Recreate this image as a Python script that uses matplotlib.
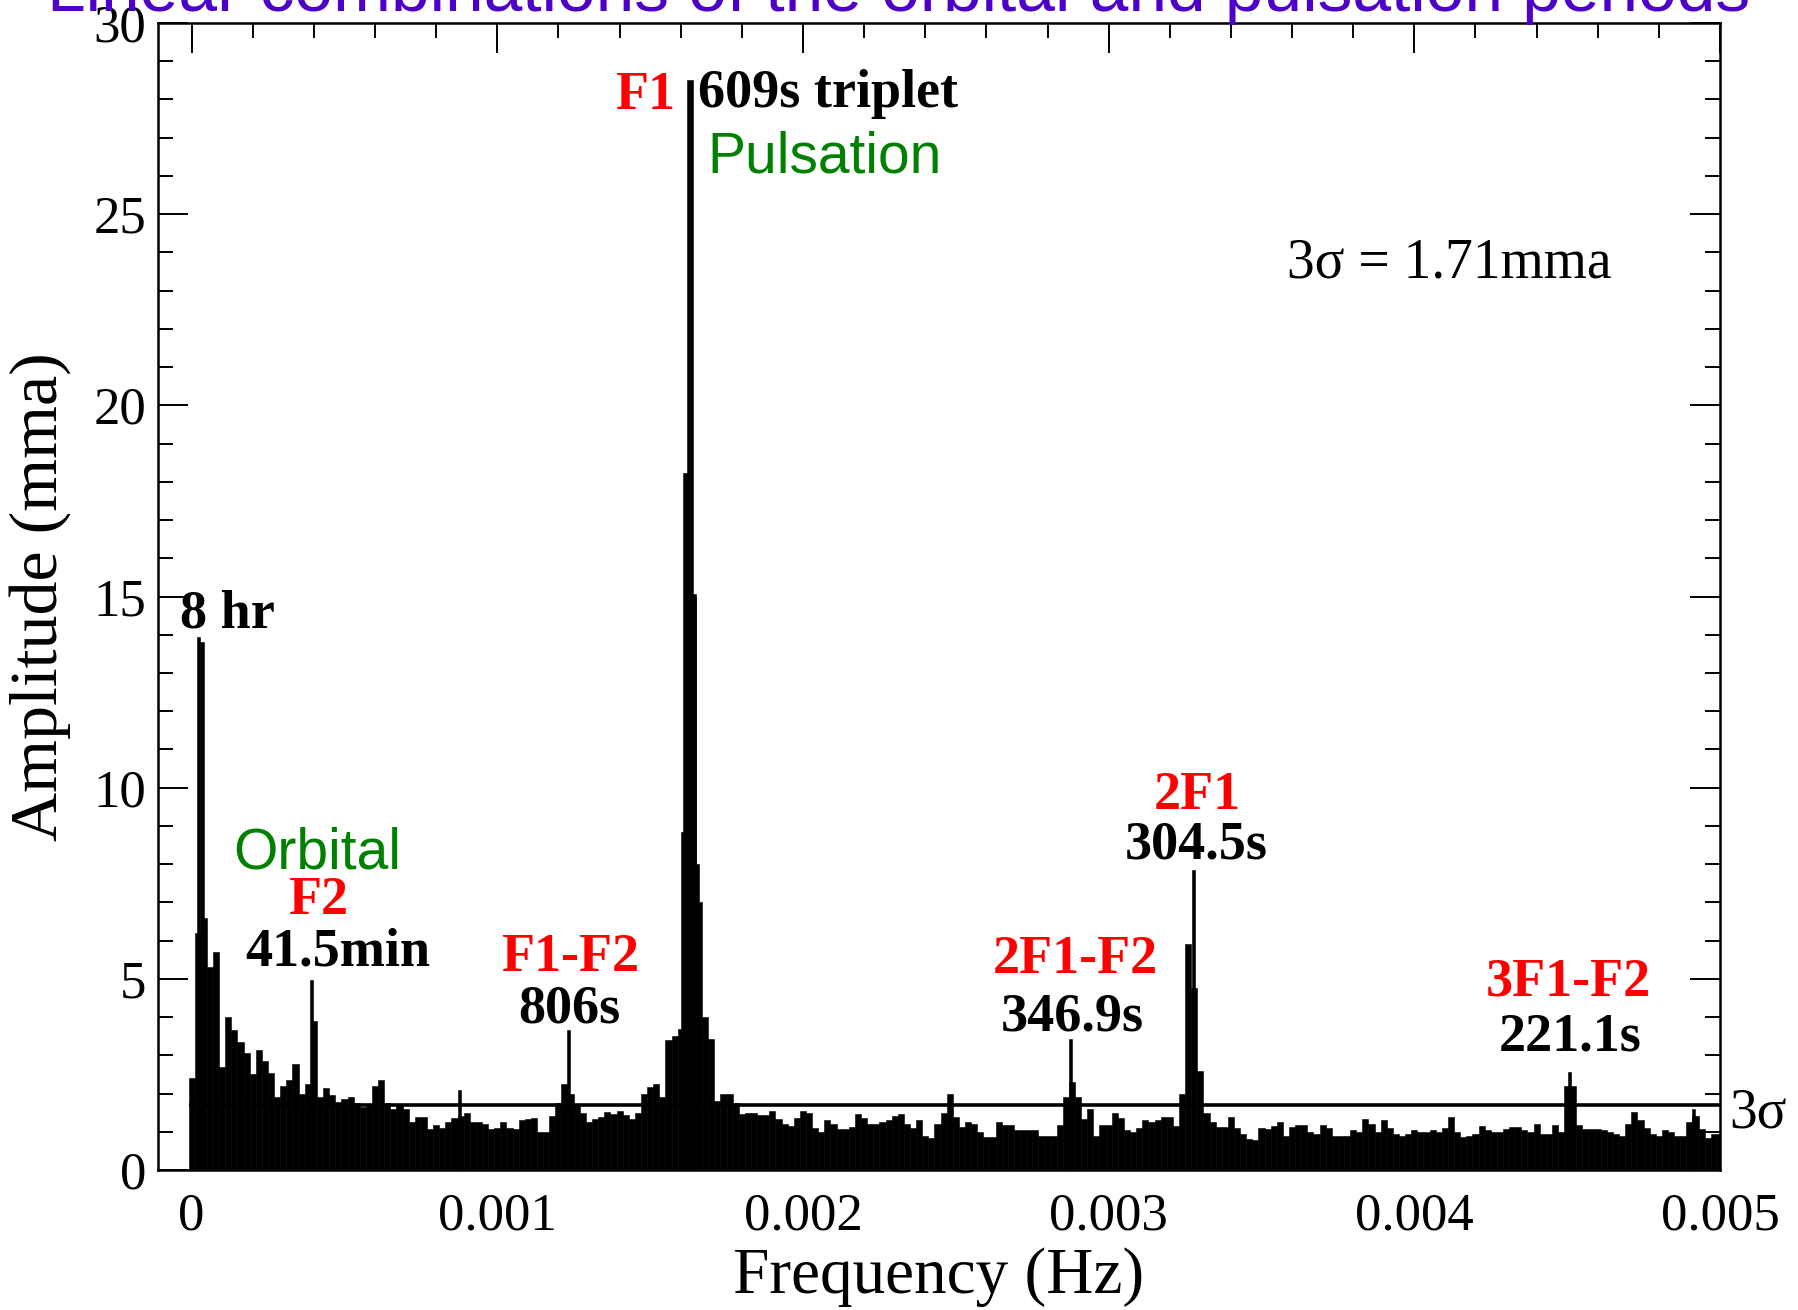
import matplotlib
matplotlib.use("Agg")
import matplotlib.pyplot as plt
from matplotlib.ticker import MultipleLocator
import numpy as np

OUTPUT_FILENAME = 'out.png'

# amplitude spectrum, envelope read per 0.00002 Hz bin (mma)
BIN = 0.00002
amp = [
    2.4, 6.2, 6.6, 5.3, 5.7, 2.7, 4.0, 3.65, 3.35, 3.05,
    2.5, 3.15, 2.85, 2.55, 1.9, 2.2, 2.35, 2.78, 2.0, 2.26,
    3.9, 1.9, 2.15, 1.95, 1.78, 1.85, 1.9, 1.74, 1.65, 1.7,
    2.2, 2.35, 1.75, 1.6, 1.7, 1.6, 1.25, 1.39, 1.39, 1.08,
    1.17, 1.1, 1.25, 1.35, 1.4, 1.5, 1.25, 1.25, 1.2, 1.08,
    1.1, 1.25, 1.1, 1.08, 1.3, 1.34, 1.37, 1.0, 1.0, 1.4,
    1.75, 2.26, 2.0, 1.73, 1.5, 1.25, 1.34, 1.39, 1.52, 1.47,
    1.55, 1.45, 1.34, 1.5, 2.0, 2.17, 2.25, 1.9, 3.4, 3.5,
    3.7, 8.84, 15.0, 7.0, 4.0, 3.43, 1.8, 2.0, 2.0, 1.75,
    1.47, 1.5, 1.5, 1.43, 1.43, 1.55, 1.34, 1.2, 1.15, 1.35,
    1.55, 1.5, 1.1, 0.99, 1.3, 1.2, 1.08, 1.08, 1.12, 1.47,
    1.35, 1.2, 1.2, 1.25, 1.3, 1.4, 1.47, 1.2, 1.1, 1.3,
    0.9, 0.85, 1.2, 1.5, 2.0, 1.39, 1.12, 1.25, 1.2, 0.99,
    0.86, 0.86, 1.25, 1.17, 1.17, 1.04, 1.04, 1.04, 1.04, 0.9,
    0.9, 0.9, 1.17, 1.9, 2.3, 1.9, 1.34, 1.6, 0.9, 1.17,
    1.17, 1.5, 1.35, 1.05, 1.0, 1.1, 1.3, 1.25, 1.3, 1.39,
    1.39, 1.15, 2.0, 5.9, 4.76, 2.6, 1.5, 1.25, 1.12, 1.12,
    1.39, 1.1, 0.95, 0.8, 0.78, 1.1, 1.08, 1.15, 1.25, 0.9,
    1.12, 1.17, 1.17, 1.0, 0.95, 1.17, 1.1, 0.9, 0.88, 0.9,
    1.05, 0.99, 1.34, 1.2, 1.0, 1.3, 1.1, 0.95, 0.9, 0.95,
    1.04, 1.0, 1.0, 1.05, 1.0, 1.1, 1.39, 1.0, 0.86, 0.9,
    0.95, 1.15, 1.04, 0.99, 1.0, 1.08, 1.12, 1.12, 1.04, 1.0,
    1.21, 0.95, 0.95, 1.17, 1.0, 2.2, 2.2, 1.17, 1.08, 1.08,
    1.08, 1.05, 0.99, 0.95, 0.9, 1.2, 1.52, 1.3, 1.1, 0.95,
    0.9, 1.04, 0.99, 0.9, 0.9, 1.25, 1.4, 1.08, 0.85, 0.95,
    0.95,
]
freq = np.arange(len(amp)) * BIN

# narrow peaks on top of the envelope
SPIKE_WIDTH = 0.00001
spike_freq = [0.000023, 0.000034, 0.000391, 0.000875, 0.0012327,
              0.0016045, 0.0016135, 0.0016175, 0.001627, 0.0016355,
              0.0016453, 0.001655, 0.002876, 0.003277, 0.004508, 0.004912]
spike_amp = [13.95, 13.8, 4.96, 2.08, 3.65,
             8.84, 18.24, 18.24, 28.5, 28.5,
             15.07, 8.0, 3.43, 7.84, 2.56, 1.6]

sigma3 = 1.71
x_ticks = [0, 0.001, 0.002, 0.003, 0.004, 0.005]
x_tick_labels = ['0', '0.001', '0.002', '0.003', '0.004', '0.005']
y_ticks = [0, 5, 10, 15, 20, 25, 30]

TITLE = 'Linear combinations of the orbital and pulsation periods'
PURPLE = '#4d00c8'
RED = '#ff0000'
GREEN = '#008000'
SERIF = 'Liberation Serif'
SANS = 'Liberation Sans'

plt.rcParams['font.family'] = SERIF


def plot_spectrum():
    fig = plt.figure(figsize=(17.98, 13.10), dpi=100, facecolor='white')
    ax = fig.add_axes([158 / 1798, 1 - 1170 / 1310, 1562 / 1798, 1147 / 1310])

    ax.bar(freq, amp, width=BIN, color='black', edgecolor='black', linewidth=0.4)
    ax.bar(spike_freq, spike_amp, width=SPIKE_WIDTH, color='black',
           edgecolor='black', linewidth=0.4)
    ax.hlines(sigma3, freq[0] - BIN / 2, x_ticks[-1], color='black', linewidth=2.6)

    ax.set_xlim(-0.00011, 0.005)
    ax.set_ylim(0, 30)
    ax.set_xticks(x_ticks)
    ax.set_xticklabels(x_tick_labels)
    ax.set_yticks(y_ticks)
    ax.xaxis.set_minor_locator(MultipleLocator(0.0002))
    ax.yaxis.set_minor_locator(MultipleLocator(1))
    ax.tick_params(which='both', direction='in', top=True, right=True,
                   width=1.4, labelsize=38)
    ax.tick_params(which='major', length=21.6)
    ax.tick_params(which='minor', length=10.8)
    ax.tick_params(axis='x', pad=16)
    ax.tick_params(axis='y', pad=8.5)
    for s in ax.spines.values():
        s.set_linewidth(1.8)

    ax.set_xlabel('Frequency (Hz)', fontsize=47)
    ax.xaxis.label.set_va('baseline')
    ax.xaxis.set_label_coords(0.5, -(1293 - 1170) / 1147)
    ax.set_ylabel('Amplitude (mma)', fontsize=49)
    ax.yaxis.set_label_coords(-(158 - 71) / 1562, 0.5)

    bold = dict(fontsize=39, fontweight='bold', va='baseline')
    ax.text(-3.8e-5, 14.18, '8 hr', ha='left', color='black', **bold)
    ax.text(1.357e-4, 7.89, 'Orbital', ha='left', va='baseline', color=GREEN,
            fontsize=41, family=SANS)
    ax.text(4.14e-4, 6.69, 'F2', ha='center', color=RED, **bold)
    ax.text(4.79e-4, 5.36, '41.5min', ha='center', color='black', **bold)
    ax.text(1.238e-3, 5.2, 'F1-F2', ha='center', color=RED, **bold)
    ax.text(1.235e-3, 3.87, '806s', ha='center', color='black', **bold)
    ax.text(1.5816e-3, 27.74, 'F1', ha='right', color=RED, **bold)
    ax.text(1.657e-3, 27.79, '609s triplet', ha='left', color='black', **bold)
    ax.text(1.6864e-3, 26.08, 'Pulsation', ha='left', va='baseline', color=GREEN,
            fontsize=41, family=SANS)
    ax.text(3.583e-3, 23.35, '3\u03c3 = 1.71mma', ha='left', va='baseline',
            fontsize=40)
    ax.text(3.289e-3, 9.43, '2F1', ha='center', color=RED, **bold)
    ax.text(3.286e-3, 8.16, '304.5s', ha='center', color='black', **bold)
    ax.text(2.892e-3, 5.16, '2F1-F2', ha='center', color=RED, **bold)
    ax.text(2.880e-3, 3.65, '346.9s', ha='center', color='black', **bold)
    ax.text(4.504e-3, 4.57, '3F1-F2', ha='center', color=RED, **bold)
    ax.text(4.509e-3, 3.13, '221.1s', ha='center', color='black', **bold)
    ax.text(5.03e-3, 1.11, '3\u03c3', ha='left', va='baseline', fontsize=40,
            clip_on=False)

    fig.text(0.5, 1 - 11 / 1310, TITLE, ha='center', va='baseline',
             fontsize=50, color=PURPLE, family=SANS)

    fig.savefig(OUTPUT_FILENAME, facecolor=fig.get_facecolor())
    plt.close('all')


def main():
    plot_spectrum()


if __name__ == "__main__":
    main()
